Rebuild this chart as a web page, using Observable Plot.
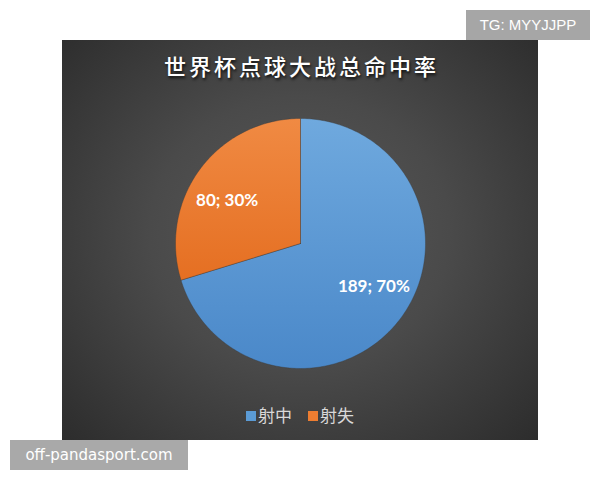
<!DOCTYPE html>
<html><head><meta charset="utf-8">
<script src="https://cdn.jsdelivr.net/npm/d3@7"></script>
<script src="https://cdn.jsdelivr.net/npm/@observablehq/plot@0.6"></script>
<style>
body{margin:0;background:#fff;width:600px;height:480px;position:relative;overflow:hidden;font-family:"Noto Sans CJK SC",sans-serif}
#panel{position:absolute;left:62px;top:40px;width:476px;height:400px;background:radial-gradient(ellipse 70% 75% at 50% 48%, #595959 0%, #4a4a4a 45%, #2c2c2c 100%);}
#title{position:absolute;left:0;top:9px;width:100%;text-align:center;color:#fff;font-size:22px;font-weight:500;text-shadow:1px 2px 3px rgba(0,0,0,.8);letter-spacing:3px;text-indent:3px}
#chart{position:absolute;left:0;top:53px}
#legend{position:absolute;left:0;top:362px;width:100%;text-align:center;color:#d9d9d9;font-size:17px}
#legend span.sw{display:inline-block;width:10px;height:10px;margin-right:2px;vertical-align:1px}
#legend span.it{margin:0 8px}
.tg{position:absolute;left:466px;top:10px;width:124px;height:30px;background:#a6a6a6;color:#fff;font:15px "Liberation Sans",sans-serif;line-height:30px;text-align:center}
.pd{position:absolute;left:10px;top:440px;width:178px;height:30px;background:#a9a9a9;color:#fff;font:15px "DejaVu Sans",sans-serif;line-height:30px;text-align:center}
</style></head>
<body>
<div id="panel">
  <div id="title"></div>
  <div id="chart"></div>
  <div id="legend"></div>
</div>
<div class="tg">TG: MYYJJPP</div>
<div class="pd">off-pandasport.com</div>
<script>
const title = "世界杯点球大战总命中率";
const categories = ["射中", "射失"];
const values = [189, 80];
const colors = ["#5b9bd5", "#ed7d31"];
const gradTop = ["#6fa9de", "#f08a43"];
const gradBottom = ["#4a88c9", "#e56f22"];

document.getElementById("title").textContent = title;

const total = d3.sum(values);
const arcs = d3.pie().sort(null).value(d => d.value)(categories.map((c, i) => ({cat: c, value: values[i], i})));

// polygon points for each slice derived from pie angles
const slices = arcs.map(a => {
  const pts = [{x: 0, y: 0}];
  const n = Math.max(2, Math.ceil((a.endAngle - a.startAngle) / (Math.PI / 180)));
  for (let k = 0; k <= n; k++) {
    const t = a.startAngle + (a.endAngle - a.startAngle) * k / n;
    pts.push({x: Math.sin(t), y: Math.cos(t)});
  }
  pts.push({x: 0, y: 0});
  return pts;
});

const labels = arcs.map(a => {
  const m = (a.startAngle + a.endAngle) / 2;
  const r = 0.73;
  return {x: Math.sin(m) * r, y: Math.cos(m) * r * 0.8,
          text: `${a.data.value}; ${Math.round(a.data.value / total * 100)}%`};
});

const W = 476, H = 300, R = 125;
const plot = Plot.plot({
  width: W, height: H, margin: 0,
  style: {background: "transparent", overflow: "visible"},
  x: {domain: [-W / 2 / R, W / 2 / R], axis: null},
  y: {domain: [-H / 2 / R, H / 2 / R], axis: null},
  marks: [
    ...slices.map((pts, i) => Plot.line(pts, {x: "x", y: "y", fill: `url(#g${i})`, stroke: "#3a3a3a", strokeWidth: 0.4, curve: "linear"})),
    Plot.text(labels, {x: "x", y: "y", text: "text", fill: "#fff", fontSize: 17, fontWeight: "bold", fontFamily: "Lato, 'Open Sans', sans-serif"})
  ]
});
const ns = "http://www.w3.org/2000/svg";
const defs = document.createElementNS(ns, "defs");
categories.forEach((c, i) => {
  const g = document.createElementNS(ns, "linearGradient");
  g.setAttribute("id", "g" + i);
  g.setAttribute("x1", "0"); g.setAttribute("y1", "0"); g.setAttribute("x2", "0"); g.setAttribute("y2", "1");
  [[0, gradTop[i]], [1, gradBottom[i]]].forEach(([o, col]) => {
    const s = document.createElementNS(ns, "stop");
    s.setAttribute("offset", o); s.setAttribute("stop-color", col);
    g.appendChild(s);
  });
  defs.appendChild(g);
});
plot.insertBefore(defs, plot.firstChild);
document.getElementById("chart").appendChild(plot);

const legend = document.getElementById("legend");
categories.forEach((c, i) => {
  const it = document.createElement("span");
  it.className = "it";
  it.innerHTML = `<span class="sw" style="background:${colors[i]}"></span>${c}`;
  legend.appendChild(it);
});
</script>
</body></html>
